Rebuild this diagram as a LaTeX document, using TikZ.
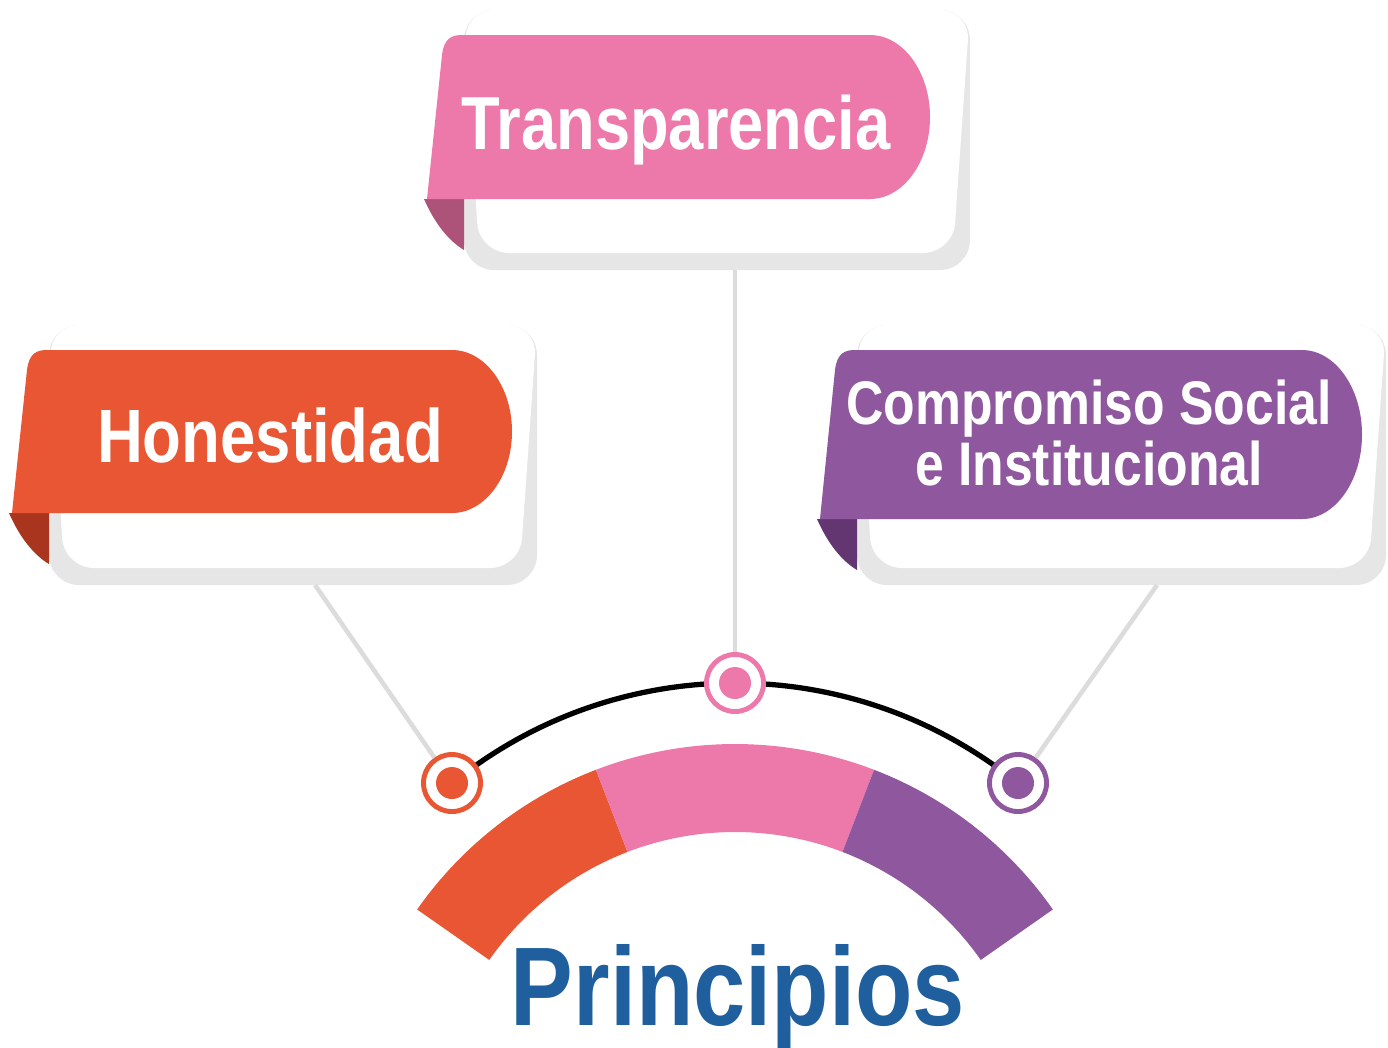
\documentclass[tikz,border=0pt]{standalone}
\usepackage{fontspec}
\setmainfont{Liberation Sans}[FakeStretch=0.84]
\usepackage{tikz}

\definecolor{naranja}{HTML}{E85634}
\definecolor{naranjaosc}{HTML}{A9351E}
\definecolor{rosa}{HTML}{ED79AB}
\definecolor{rosaosc}{HTML}{AD5279}
\definecolor{morado}{HTML}{8F579D}
\definecolor{moradoosc}{HTML}{633672}
\definecolor{sombra}{HTML}{E6E6E6}
\definecolor{linea}{HTML}{DCDCDC}
\definecolor{azul}{HTML}{1F5F9D}

\tikzset{
  rotulo/.style={text=white, anchor=base, inner sep=0pt},
  conector/.style={draw=linea, line width=1.3pt},
  punto/.style={circle, draw=#1, fill=white, line width=1.4pt, minimum size=0.57cm, inner sep=0pt}
}

% #1 izq, #2 arriba, #3 der, #4 abajo (cinta); #5 der, #6 abajo (tarjeta); #7, #8 colores
\newcommand{\ficha}[8]{%
  \fill[sombra, rounded corners=0.3cm] ({#1+37},{#2-25}) rectangle (#5,#6);
  \fill[white, rounded corners=0.3cm] ({#1+37},{#2-25}) -- (#5,{#2-25}) -- ({#5-17},{#6-17}) -- ({#1+52},{#6-17}) -- cycle;
  \fill[#8] ({#1-3},#4) -- ({#1+37},#4) -- ({#1+37},{#4+51}) .. controls ({#1+22},{#4+42}) and ({#1+8},{#4+25}) .. ({#1-3},#4) -- cycle;
  \fill[#7] (#1,#4) -- ({#1+15},{#2+20}) .. controls ({#1+17},{#2+3}) and ({#1+25},#2) .. ({#1+35},#2)
    -- ({#3-60},#2) .. controls ({#3-27},#2) and (#3,{#2+0.224*(#4-#2)}) .. (#3,{(#2+#4)/2})
    .. controls (#3,{#4-0.224*(#4-#2)}) and ({#3-27},#4) .. ({#3-60},#4) -- cycle;
}

\begin{document}
\begin{tikzpicture}[x=0.01cm, y=-0.01cm]

\useasboundingbox (0,0) rectangle (1388,1047);

\ficha{12}{350}{512}{513}{537}{585}{naranja}{naranjaosc}
\ficha{427}{35}{930}{199}{970}{270}{rosa}{rosaosc}
\ficha{820}{350}{1362}{519}{1386}{585}{morado}{moradoosc}

\node[rotulo, font=\bfseries\fontsize{21.5}{22}\selectfont] (honestidad) at (270,462) {Honestidad};
\node[rotulo, font=\bfseries\fontsize{21.4}{22}\selectfont] (transparencia) at (676,149) {Transparencia};
\node[rotulo, anchor=center, align=center, font=\bfseries\fontsize{17.5}{16}\selectfont] (compromiso) at (1089,433) {Compromiso Social\\e Institucional};

\coordinate (c) at (735,1132);

% arco de colores
\fill[naranja] ([shift={(-145:388)}]c) arc[start angle=-145, end angle=-111, radius=388] -- ([shift={(-111:300)}]c) arc[start angle=-111, end angle=-145, radius=300] -- cycle;
\fill[rosa] ([shift={(-111:388)}]c) arc[start angle=-111, end angle=-69, radius=388] -- ([shift={(-69:300)}]c) arc[start angle=-69, end angle=-111, radius=300] -- cycle;
\fill[morado] ([shift={(-69:388)}]c) arc[start angle=-69, end angle=-35, radius=388] -- ([shift={(-35:300)}]c) arc[start angle=-35, end angle=-69, radius=300] -- cycle;

\draw[line width=1.5pt] ([shift={(-129:449)}]c) arc[start angle=-129, end angle=-51, radius=449];

\node[punto=naranja] (hpunto) at (452,783) {};
\node[punto=rosa] (tpunto) at (735,683) {};
\node[punto=morado] (cpunto) at (1018,783) {};
\fill[naranja] (hpunto) circle[radius=16];
\fill[rosa] (tpunto) circle[radius=16];
\fill[morado] (cpunto) circle[radius=16];

\coordinate (hpie) at (315,585);
\coordinate (tpie) at (735,270);
\coordinate (cpie) at (1157,585);

\draw[conector] (hpie) -- (hpunto);
\draw[conector] (tpie) -- (tpunto);
\draw[conector] (cpie) -- (cpunto);

\node[font=\bfseries\fontsize{31.8}{32}\selectfont, text=azul, anchor=base] (principios) at (738,1025) {Principios};

\end{tikzpicture}
\end{document}
